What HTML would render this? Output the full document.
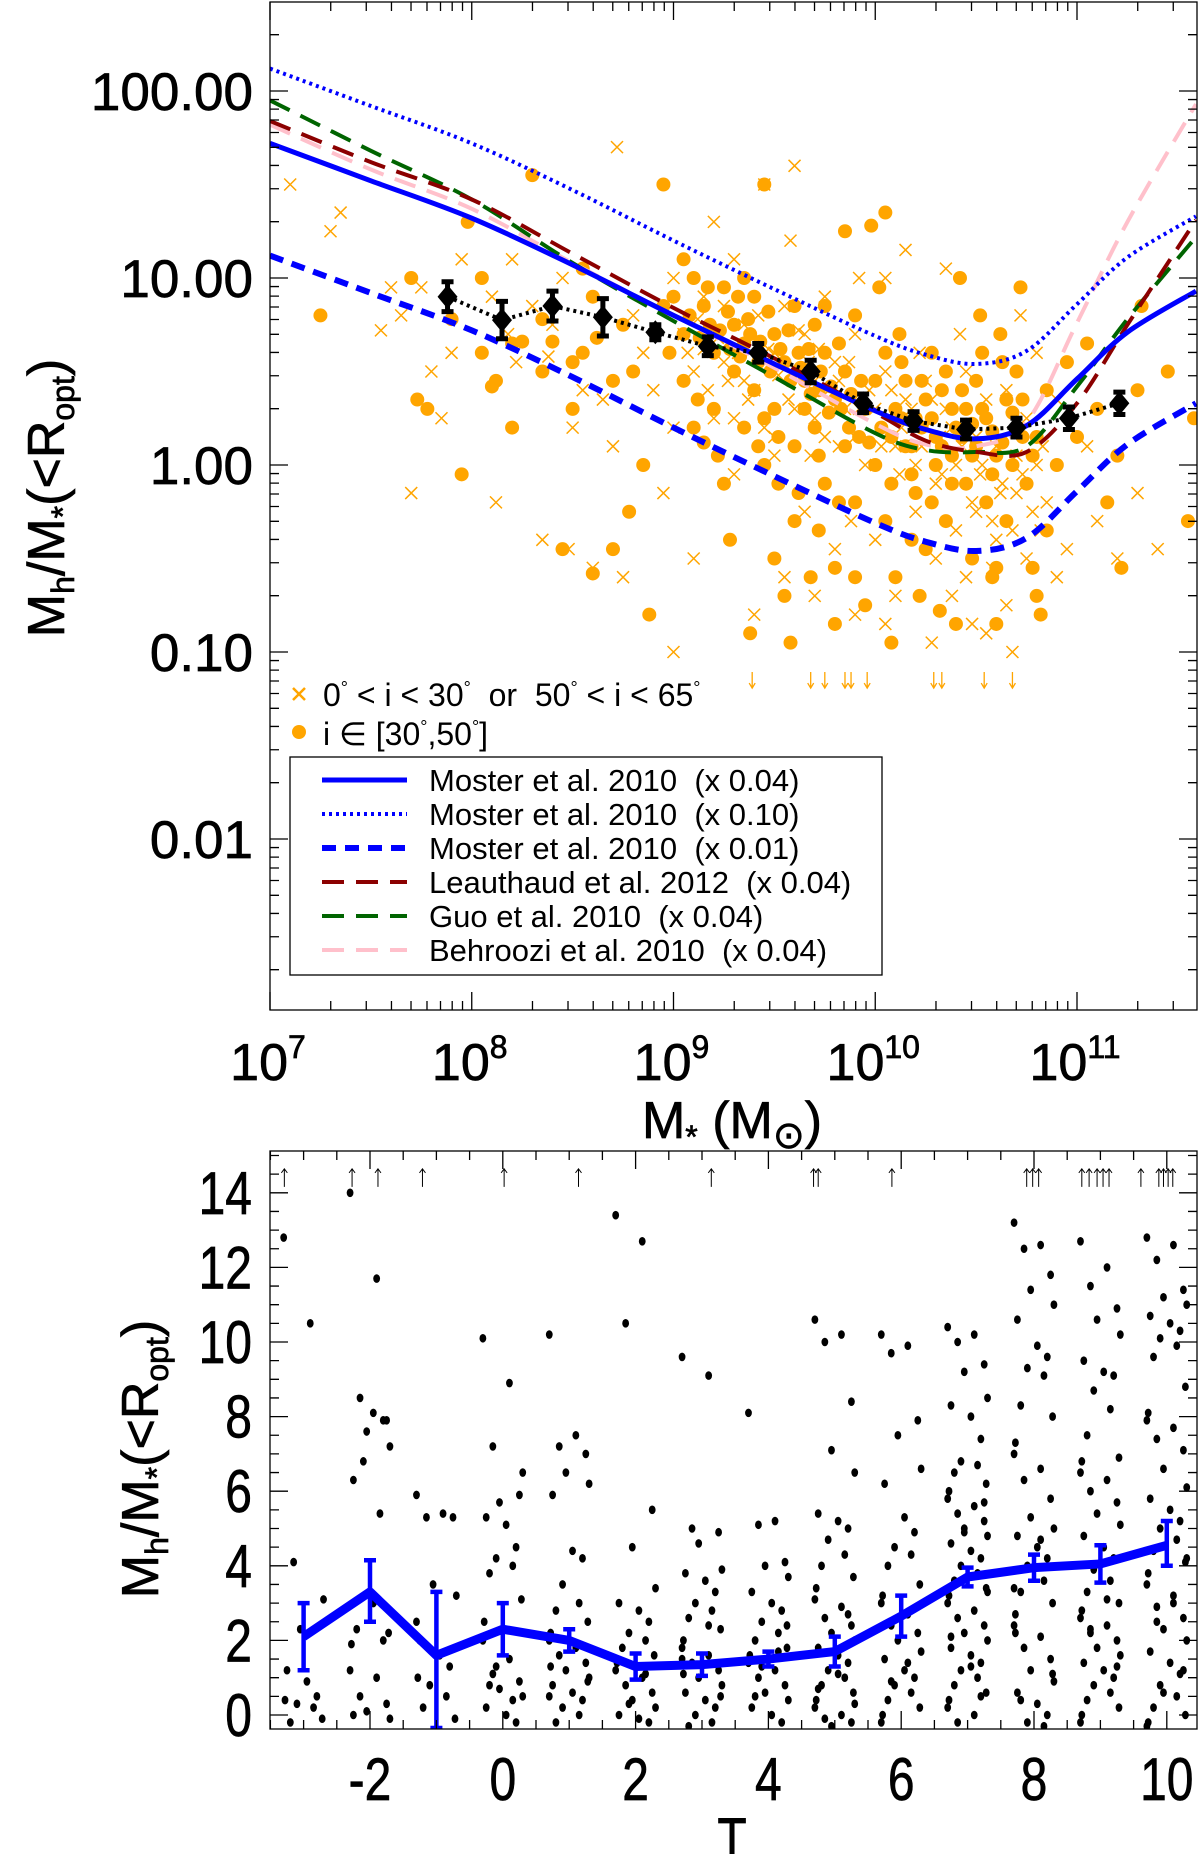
<!DOCTYPE html>
<html><head><meta charset="utf-8"><style>
html,body{margin:0;padding:0;background:#fff}
svg{display:block}
text{font-family:"Liberation Sans",sans-serif;fill:#000;white-space:pre}
.lbl{stroke:#000;stroke-width:0.7}
</style></head><body>
<svg id="fig" width="1200" height="1854" viewBox="0 0 1200 1854" xmlns="http://www.w3.org/2000/svg">
<g id="topPanel"></g>
<g id="botPanel"></g>
</svg>
<script>
// ---------- TOP PANEL DATA (log10 M*, log10 ratio) ----------
const curveLogM=[7,7.5,8,8.5,9,9.5,10,10.25,10.5,10.75,11,11.25,11.59];
const moster04=[1.72,1.52,1.32,1.07,0.80,0.54,0.29,0.19,0.14,0.21,0.46,0.71,0.93];
const moster10=[2.12,1.92,1.72,1.47,1.20,0.94,0.69,0.59,0.54,0.61,0.86,1.11,1.33];
const moster01=[1.12,0.92,0.72,0.47,0.20,-0.06,-0.31,-0.41,-0.46,-0.39,-0.14,0.11,0.33];
const leauthaud=[1.84,1.62,1.42,1.13,0.84,0.57,0.28,0.13,0.07,0.07,0.33,0.75,1.31];
const guo=[1.95,1.68,1.42,1.08,0.77,0.47,0.17,0.08,0.07,0.1,0.42,0.78,1.22];
const behroozi=[1.82,1.58,1.37,1.08,0.8,0.52,0.22,0.11,0.1,0.23,0.76,1.3,1.93];
const binLogM=[7.88,8.15,8.40,8.65,8.91,9.17,9.42,9.68,9.94,10.19,10.45,10.70,10.96,11.21];
const binLogR=[0.90,0.775,0.85,0.79,0.71,0.635,0.60,0.50,0.33,0.235,0.19,0.20,0.25,0.33];
const binErr=[0.08,0.1,0.08,0.1,0.04,0.05,0.05,0.06,0.05,0.05,0.05,0.05,0.06,0.06];
const dotsTop=[7.25,0.8,7.7,1.0,7.73,0.35,7.78,0.3,7.9,0.78,7.95,-0.05,8.05,0.6,8.1,0.42,8.05,1.0,8.12,0.45,8.2,0.2,8.3,1.55,8.25,0.66,8.35,0.78,8.4,0.66,8.45,-0.45,8.5,0.55,8.55,0.6,8.6,0.9,8.62,0.68,8.7,0.45,8.7,-0.45,8.75,0.75,8.8,0.5,8.85,0.0,8.88,-0.8,8.95,1.5,8.95,0.85,8.98,0.6,8.5,0.3,8.35,0.5,8.2,0.65,7.98,1.3,8.55,1.05,8.78,-0.25,8.6,-0.58,
9.0,0.9,9.05,0.7,9.05,0.45,9.1,0.2,9.1,1.0,9.15,0.85,9.2,0.6,9.2,0.3,9.25,0.95,9.25,-0.1,9.3,0.75,9.3,0.5,9.35,0.65,9.35,0.2,9.4,0.9,9.4,0.4,9.45,1.5,9.45,0.0,9.5,0.7,9.5,0.3,9.5,-0.5,9.55,0.55,9.6,0.85,9.6,0.1,9.6,-0.3,9.65,0.45,9.7,0.75,9.7,0.2,9.75,0.6,9.75,-0.1,9.8,0.35,9.8,-0.55,9.85,0.5,9.85,0.1,9.9,0.8,9.9,-0.2,9.95,0.3,9.95,-0.75,9.12,0.35,9.22,0.05,9.32,0.9,9.42,0.55,9.52,0.15,9.62,0.6,9.72,0.4,9.82,0.65,9.92,0.15,9.68,-0.6,9.58,-0.95,9.9,-0.6,9.38,-0.9,9.55,-0.7,9.8,-0.85,9.28,-0.4,9.15,0.12,9.45,0.25,9.65,0.3,9.05,1.1,9.35,1.0,9.75,0.85,9.85,1.25,9.98,1.28,9.72,-0.35,
9.08,0.8,9.13,0.68,9.18,0.75,9.23,0.72,9.28,0.62,9.33,0.58,9.38,0.7,9.43,0.66,9.48,0.5,9.53,0.62,9.58,0.45,9.63,0.52,9.68,0.38,9.73,0.5,9.78,0.42,9.83,0.3,9.88,0.38,9.93,0.45,9.17,0.95,9.27,0.82,9.37,0.78,9.47,0.82,9.57,0.72,9.67,0.62,9.77,0.28,9.87,0.2,9.97,0.12,9.42,0.1,9.52,-0.1,9.62,-0.15,9.72,0.05,9.82,-0.2,
10.0,0.45,10.0,0.0,10.05,0.6,10.05,-0.3,10.1,0.3,10.1,-0.6,10.15,0.1,10.15,0.45,10.2,-0.15,10.2,0.25,10.25,0.35,10.25,-0.45,10.3,0.15,10.3,0.0,10.35,0.5,10.35,-0.3,10.4,0.2,10.4,-0.85,10.45,0.3,10.45,-0.1,10.5,0.1,10.5,0.45,10.55,-0.2,10.55,0.25,10.6,0.05,10.6,-0.55,10.65,0.35,10.65,-0.3,10.7,0.2,10.7,0.5,10.75,-0.1,10.8,0.15,10.8,-0.7,10.85,0.4,10.85,-0.35,10.9,0.0,10.95,0.55,11.0,0.15,10.02,0.95,10.12,0.7,10.22,-0.7,10.32,-0.78,10.42,1.0,10.52,0.8,10.62,0.7,10.72,0.95,10.82,-0.8,10.08,-0.95,10.18,-0.4,10.28,0.6,10.38,0.05,10.48,-0.5,10.58,-0.6,10.78,-0.55,10.05,1.35,10.6,-0.85,
10.03,0.2,10.08,0.15,10.13,0.25,10.18,0.1,10.23,0.2,10.28,0.25,10.33,0.1,10.38,0.3,10.43,0.15,10.48,0.22,10.53,0.3,10.58,0.18,10.63,0.12,10.68,0.28,10.73,0.15,10.08,-0.1,10.18,-0.05,10.28,-0.2,10.38,-0.1,10.48,0.05,10.58,-0.05,10.68,0.0,10.78,0.05,10.13,0.55,10.23,0.45,10.33,0.4,10.43,0.4,10.53,0.6,10.63,0.55,10.73,0.35,
11.05,0.65,11.1,0.3,11.15,-0.2,11.2,0.05,11.22,-0.55,11.3,0.4,11.45,0.5,11.55,-0.3,11.58,0.25,11.32,0.85];
const crossTop=[7.1,1.5,7.35,1.35,7.3,1.25,7.55,0.72,7.6,0.95,7.65,0.8,7.7,-0.15,7.8,0.5,7.75,0.95,7.85,0.25,7.9,0.6,7.95,1.1,8.1,0.9,8.12,-0.2,8.18,0.7,8.2,1.1,8.22,0.55,8.3,0.85,8.35,-0.4,8.38,0.58,8.4,0.75,8.45,1.0,8.48,-0.45,8.5,0.2,8.55,0.4,8.6,-0.55,8.65,0.35,8.72,1.7,8.7,0.1,8.75,-0.6,8.8,0.8,8.85,0.6,8.9,0.4,8.95,-0.15,
9.0,1.0,9.0,-1.0,9.05,0.7,9.1,0.5,9.1,-0.5,9.15,0.9,9.2,0.25,9.2,1.3,9.25,0.55,9.3,1.1,9.3,-0.05,9.35,0.75,9.4,0.4,9.4,-0.8,9.45,1.5,9.5,0.6,9.5,0.05,9.55,0.85,9.55,-0.6,9.6,1.6,9.6,0.3,9.65,0.7,9.65,-0.25,9.7,0.45,9.7,-0.7,9.75,0.9,9.75,0.15,9.8,0.55,9.8,-0.45,9.85,0.3,9.9,0.7,9.9,-0.8,9.95,0.0,9.0,0.2,9.25,0.85,9.45,0.2,9.62,0.5,9.82,0.1,9.58,1.2,9.92,1.0,9.35,0.45,9.15,0.62,9.68,0.05,9.88,-0.3,
9.07,0.6,9.12,0.78,9.17,0.4,9.22,0.68,9.27,0.45,9.32,0.6,9.37,0.35,9.42,0.8,9.47,0.62,9.52,0.48,9.57,0.35,9.62,0.72,9.67,0.55,9.72,0.62,9.77,0.4,9.82,0.45,9.87,0.55,9.92,0.3,9.97,0.4,9.3,0.25,9.5,0.15,9.7,0.25,9.9,0.15,
10.0,0.3,10.0,-0.4,10.05,0.5,10.05,1.0,10.1,0.1,10.1,-0.7,10.15,0.35,10.15,1.15,10.2,0.0,10.2,-0.25,10.25,0.45,10.25,0.2,10.3,-0.1,10.3,-0.5,10.35,0.3,10.35,1.05,10.4,0.0,10.4,-0.35,10.45,0.5,10.45,-0.6,10.5,0.15,10.5,-0.25,10.55,0.35,10.55,-0.9,10.6,0.1,10.6,-0.4,10.65,0.4,10.65,-0.75,10.7,0.05,10.7,-0.15,10.75,0.25,10.75,-0.5,10.8,0.0,10.8,0.6,10.85,-0.2,10.9,0.35,10.95,-0.45,11.05,0.1,11.1,-0.3,11.2,-0.5,11.3,-0.15,11.4,-0.45,10.12,-0.05,10.22,0.6,10.32,0.15,10.42,0.7,10.52,-0.05,10.62,-0.15,10.72,0.8,10.82,-0.35,10.38,-0.7,10.58,-0.55,10.68,-1.0,10.48,-0.85,10.05,-0.85,10.28,-0.95,10.9,-0.6,
10.03,0.1,10.13,0.2,10.23,0.1,10.33,-0.05,10.43,0.1,10.53,0.0,10.63,-0.1,10.73,-0.05,10.83,0.1,10.08,0.4,10.18,0.3,10.28,0.35,10.38,0.2,10.48,-0.2,10.58,-0.3,10.68,-0.35,10.78,-0.25];
const arrowTopLogM=[9.39,9.68,9.75,9.85,9.88,9.96,10.29,10.33,10.54,10.68];
const arrowTopLogR=-1.15;

// ---------- BOTTOM PANEL DATA ----------
const typeT=[-3,-2,-1,0,1,2,3,4,5,6,7,8,9,10];
const medRatio=[2.1,3.3,1.6,2.3,2.0,1.3,1.35,1.5,1.7,2.65,3.7,3.95,4.05,4.55];
const errLo=[0.9,0.8,1.95,0.7,0.3,0.35,0.3,0.2,0.4,0.55,0.25,0.35,0.5,0.55];
const errHi=[0.9,0.85,1.7,0.7,0.3,0.35,0.3,0.2,0.4,0.55,0.25,0.35,0.5,0.65];
const galaxyRatios={
"-3":[12.8,10.5,4.1,2.4,2.3,3.1,1.2,0.9,0.5,0.3,0.2,-0.2,-0.1,0.4],
"-2":[14.0,11.7,8.5,7.9,7.6,7.2,6.3,8.1,7.9,6.8,5.4,2.3,2.2,1.9,1.2,1.0,0.5,0.3,0.1,-0.1,0.0,3.0,2.0],
"-1":[5.9,5.4,5.3,5.3,3.5,3.2,2.0,1.6,1.3,0.8,0.5,0.2,-0.1,1.0,2.5],
"0":[10.1,8.9,7.2,5.9,5.7,6.5,5.3,5.1,4.5,4.2,4.0,3.8,3.1,2.5,2.0,1.5,1.1,0.9,0.7,0.5,0.2,0.0,-0.2,1.3,0.4,0.8],
"1":[10.2,7.5,7.2,7.0,6.5,6.2,5.9,4.4,4.2,3.5,3.0,2.8,2.5,2.2,2.0,1.8,1.6,1.4,1.2,1.0,0.8,0.6,0.4,0.2,0.0,-0.2,0.9,1.3,0.5],
"2":[13.4,12.7,10.5,5.5,4.5,3.4,3.0,2.8,2.5,2.2,2.0,1.8,1.6,1.4,1.2,1.0,0.8,0.6,0.4,0.2,0.0,-0.1,-0.2,0.3,1.1],
"3":[9.6,9.1,5.0,4.9,4.6,3.9,3.8,3.6,3.3,3.0,2.8,2.6,2.3,2.0,1.8,1.6,1.4,1.2,1.0,0.8,0.6,0.4,0.2,0.0,-0.2,-0.3,0.5,1.1,1.5,2.4],
"4":[8.1,5.2,5.1,4.1,4.0,3.7,3.3,3.0,2.8,2.5,2.2,2.0,1.8,1.6,1.4,1.2,1.0,0.8,0.6,0.4,0.2,0.0,-0.2,1.3,1.7,0.5,2.4],
"5":[10.6,10.2,10.0,8.4,7.1,6.5,5.4,5.2,5.0,4.7,4.3,4.0,3.7,3.4,3.1,2.9,2.6,2.4,2.2,2.0,1.8,1.6,1.4,1.2,1.0,0.8,0.6,0.4,0.2,0.0,-0.1,-0.2,-0.3,0.3,0.7,1.1,2.7],
"6":[10.2,9.9,9.7,7.9,7.5,6.6,6.2,5.3,4.9,4.5,4.3,4.0,3.5,3.2,3.0,2.7,2.4,2.2,2.0,1.7,1.5,1.2,1.0,0.8,0.6,0.4,0.2,0.0,-0.2,1.4,0.9],
"7":[10.4,10.2,10.0,9.4,9.2,8.5,8.3,8.0,7.4,6.8,6.7,6.5,6.2,6.0,5.8,5.6,5.4,5.2,5.0,4.8,4.6,4.4,4.2,4.0,3.8,3.6,3.4,3.2,3.0,2.8,2.6,2.4,2.2,2.0,1.8,1.6,1.4,1.2,1.0,0.8,0.6,0.4,0.2,0.0,-0.2,5.7,4.9,3.3,2.1,1.3,0.5],
"8":[13.2,12.6,12.5,11.8,11.4,11.0,10.6,9.9,9.6,9.3,9.1,8.3,8.0,7.3,7.0,6.6,6.3,5.8,5.3,5.0,4.8,4.5,4.2,4.0,3.6,3.3,3.0,2.7,2.4,2.1,1.8,1.5,1.2,0.9,0.6,0.3,0.0,-0.2,-0.3,0.4,1.1,2.2,3.4,4.7],
"9":[12.7,12.0,11.5,10.9,10.6,10.2,9.5,9.2,9.1,8.7,8.2,7.5,6.9,6.8,6.5,6.3,6.0,5.7,5.4,5.1,4.8,4.5,4.2,3.9,3.6,3.3,3.0,2.8,2.6,2.4,2.2,2.0,1.8,1.6,1.4,1.2,1.0,0.8,0.6,0.4,0.2,0.0,-0.2,3.1,2.3,1.3],
"10":[12.8,12.6,12.2,11.4,11.2,11.0,10.7,10.5,10.3,10.1,9.9,9.6,8.8,8.1,7.9,7.7,7.4,7.1,6.6,6.1,5.8,5.5,5.2,5.0,4.7,4.4,4.1,3.8,3.5,3.2,2.9,2.6,2.3,2.0,1.7,1.4,1.1,0.8,0.5,0.2,0.0,-0.2,-0.3,3.0,2.5,1.2,0.6,4.2]};
const arrowT=[-3.29,-2.27,-1.88,-1.21,0.02,1.14,3.14,4.68,4.75,5.86,7.89,7.98,8.07,8.72,8.83,8.95,9.04,9.13,9.61,9.88,9.95,10.02,10.09];
const arrowRatio=14.4;
const topYTicks=["100.00","10.00","1.00","0.10","0.01"];
const botXTicks=[-2,0,2,4,6,8,10];
const botYTicks=[0,2,4,6,8,10,12,14];

const NS="http://www.w3.org/2000/svg";
function mk(parent,tag,attrs,text){const e=document.createElementNS(NS,tag);for(const k in attrs)e.setAttribute(k,attrs[k]);if(text!==undefined)e.textContent=text;parent.appendChild(e);return e;}

const L=270,R=1197,T0=2,B0=1010;
const X=lm=>L+(lm-7)*201.75;
const Y=lr=>465-lr*187;
const BT=1151,BB=1729;
const XT=t=>370+(t+2)*66.4;
const YV=v=>1715-v*37.3;

const topG=document.getElementById('topPanel');
const botG=document.getElementById('botPanel');

const defsEl=mk(document.getElementById('fig'),'defs',{});
const cp=mk(defsEl,'clipPath',{id:'ctop'});mk(cp,'rect',{x:L,y:T0,width:R-L,height:B0-T0});
const cp2=mk(defsEl,'clipPath',{id:'cbot'});mk(cp2,'rect',{x:L,y:BT,width:R-L,height:BB-BT});
const tg=mk(topG,'g',{'clip-path':'url(#ctop)'});

for(let i=0;i<crossTop.length;i+=2){const x=X(crossTop[i]),y=Y(crossTop[i+1]);
 const c=mk(tg,'path',{d:`M${x-6} ${y-6}L${x+6} ${y+6}M${x-6} ${y+6}L${x+6} ${y-6}`,stroke:'#ffa500','stroke-width':1.5,fill:'none'});
 
 }
for(let i=0;i<dotsTop.length;i+=2){
 const c=mk(tg,'circle',{cx:X(dotsTop[i]),cy:Y(dotsTop[i+1]),r:7,fill:'#ffa500'});
 
 }
arrowTopLogM.forEach(m=>{const x=X(m),y=Y(arrowTopLogR);
 const a=mk(tg,'path',{d:`M${x} ${y-8}L${x} ${y+8}M${x-3} ${y+3}L${x} ${y+8}L${x+3} ${y+3}`,stroke:'#ffa500','stroke-width':1.3,fill:'none'});
 
 });

function smoothPath(ys){const pts=curveLogM.map((m,i)=>[X(m),Y(ys[i])]);let d=`M${pts[0][0]} ${pts[0][1]}`;
 for(let i=0;i<pts.length-1;i++){const p0=pts[i-1]||pts[i],p1=pts[i],p2=pts[i+1],p3=pts[i+2]||p2;
  const c1=[p1[0]+(p2[0]-p0[0])/6,p1[1]+(p2[1]-p0[1])/6],c2=[p2[0]-(p3[0]-p1[0])/6,p2[1]-(p3[1]-p1[1])/6];
  d+=`C${c1[0].toFixed(1)} ${c1[1].toFixed(1)} ${c2[0].toFixed(1)} ${c2[1].toFixed(1)} ${p2[0].toFixed(1)} ${p2[1].toFixed(1)}`;}return d;}
const curves=[
 [behroozi,'#ffc0cb',4,'22 12','behroozi-curve'],
 [guo,'#006400',4,'22 12','guo-curve'],
 [leauthaud,'#8b0000',4,'22 12','leauthaud-curve'],
 [moster01,'#0000ff',6,'14 9','moster-x001-curve'],
 [moster10,'#0000ff',4,'3 4','moster-x010-curve'],
 [moster04,'#0000ff',5,'','moster-x004-curve']];
curves.forEach(c=>{const p=mk(tg,'path',{d:smoothPath(c[0]),stroke:c[1],'stroke-width':c[2],fill:'none','stroke-dasharray':c[3]});
 
 });

let bd='';binLogM.forEach((m,i)=>{bd+=(i?'L':'M')+X(m)+' '+Y(binLogR[i]);});
const bl=mk(tg,'path',{d:bd,stroke:'#000','stroke-width':4,'stroke-dasharray':'3 4',fill:'none'});


binLogM.forEach((m,i)=>{const x=X(m),y=Y(binLogR[i]),y1=Y(binLogR[i]+binErr[i]),y2=Y(binLogR[i]-binErr[i]);
 const g=mk(tg,'g',{});
 
 
 mk(g,'path',{d:`M${x} ${y1}L${x} ${y2}M${x-6} ${y1}L${x+6} ${y1}M${x-6} ${y2}L${x+6} ${y2}`,stroke:'#000','stroke-width':5,fill:'none'});
 mk(g,'path',{d:`M${x} ${y-12}L${x+10} ${y}L${x} ${y+12}L${x-10} ${y}Z`,fill:'#000'});});

mk(topG,'rect',{x:L,y:T0,width:R-L,height:B0-T0,fill:'none',stroke:'#000','stroke-width':1.3});
let tk='';
for(let d=7;d<=11;d++){for(let k=1;k<=9;k++){const lm=d+Math.log10(k);if(lm>11.595)continue;const x=X(lm),len=k===1?18:9;tk+=`M${x} ${B0}L${x} ${B0-len}M${x} ${T0}L${x} ${T0+len}`;}}
for(let d=-3;d<=2;d++){for(let k=1;k<=9;k++){const lr=d+Math.log10(k);if(lr<-2.92||lr>2.47)continue;const y=Y(lr),len=k===1?18:9;tk+=`M${L} ${y}L${L+len} ${y}M${R} ${y}L${R-len} ${y}`;}}
mk(topG,'path',{d:tk,stroke:'#000','stroke-width':1.3,fill:'none'});
topYTicks.forEach((s,i)=>{const t=mk(topG,'text',{x:253,y:Y(2-i)+19,'font-size':53,'text-anchor':'end','class':'lbl'},s);
 
 });
[7,8,9,10,11].forEach(e=>{const t=mk(topG,'text',{x:X(e)-2,y:1080,'font-size':52,'text-anchor':'middle','class':'lbl'});
 
 
 mk(t,'tspan',{},'10');mk(t,'tspan',{dy:-22,'font-size':32},String(e));});
const xt=mk(topG,'text',{x:732,y:1138,'font-size':52,'text-anchor':'middle','class':'lbl'});


mk(xt,'tspan',{},'M');mk(xt,'tspan',{dy:10,'font-size':32},'*');mk(xt,'tspan',{dy:-10},' (M');mk(xt,'tspan',{dy:10,'font-size':38},'⊙');mk(xt,'tspan',{dy:-10},')');
function yTitle(parent,cx,cy,name){const t=mk(parent,'text',{x:0,y:0,'font-size':52,'text-anchor':'middle','class':'lbl',transform:`translate(${cx},${cy}) rotate(-90)`});
 
 
 mk(t,'tspan',{},'M');mk(t,'tspan',{dy:10,'font-size':32},'h');mk(t,'tspan',{dy:-10},'/M');mk(t,'tspan',{dy:10,'font-size':32},'*');mk(t,'tspan',{dy:-10},'(<R');mk(t,'tspan',{dy:10,'font-size':32},'opt');mk(t,'tspan',{dy:-10},')');}
yTitle(topG,64,498,'y-axis-title-top');

const sl=mk(topG,'g',{});


mk(sl,'path',{d:'M293 688L305 700M293 700L305 688',stroke:'#ffa500','stroke-width':2.5});
const s1=mk(sl,'text',{x:323,y:706,'font-size':32});
[['0',0],['°',1],[' < i < 30',0],['°',1],['  or  50',0],['°',1],[' < i < 65',0],['°',1]].forEach(p=>{mk(s1,'tspan',p[1]?{dy:-12,'font-size':18}:{dy:p===undefined?0:0},p[0]);});
s1.querySelectorAll('tspan').forEach((ts,i)=>{if(i%2===0&&i>0)ts.setAttribute('dy',12);});
mk(sl,'circle',{cx:299,cy:732,r:7,fill:'#ffa500'});
const s2=mk(sl,'text',{x:323,y:745,'font-size':32});
mk(s2,'tspan',{},'i ∈ [30');mk(s2,'tspan',{dy:-12,'font-size':18},'°');mk(s2,'tspan',{dy:12},',50');mk(s2,'tspan',{dy:-12,'font-size':18},'°');mk(s2,'tspan',{dy:12},']');
const lg=mk(topG,'g',{});


mk(lg,'rect',{x:290,y:757,width:592,height:218,fill:'#fff',stroke:'#000','stroke-width':1.3});
const legItems=[['Moster et al. 2010  (x 0.04)','#0000ff',5,''],['Moster et al. 2010  (x 0.10)','#0000ff',4,'3 4'],['Moster et al. 2010  (x 0.01)','#0000ff',6,'14 9'],['Leauthaud et al. 2012  (x 0.04)','#8b0000',4,'22 12'],['Guo et al. 2010  (x 0.04)','#006400',4,'22 12'],['Behroozi et al. 2010  (x 0.04)','#ffc0cb',4,'22 12']];
legItems.forEach((it,i)=>{const y=780+i*34;const g=mk(lg,'g',{});
 
 
 mk(g,'line',{x1:322,x2:407,y1:y,y2:y,stroke:it[1],'stroke-width':it[2],'stroke-dasharray':it[3]});
 mk(g,'text',{x:429,y:y+11,'font-size':31},it[0]);});

// ---------- bottom panel ----------
const bg=mk(botG,'g',{'clip-path':'url(#cbot)'});
const jit=[-0.3,0.1,-0.15,0.25,-0.05,0.3,-0.25,0.05,0.2,-0.1,0.15,-0.2,0.28,-0.28];
typeT.forEach(t=>{(galaxyRatios[String(t)]||[]).forEach((v,i)=>{
 const c=mk(bg,'ellipse',{cx:XT(t+jit[i%jit.length]),cy:YV(v),rx:3.4,ry:4.3,fill:'#000'});
 
 });});
arrowT.forEach(t=>{const x=XT(t),y=YV(arrowRatio);
 const a=mk(bg,'path',{d:`M${x} ${y-9}L${x} ${y+9}M${x-3} ${y-5}L${x} ${y-9}L${x+3} ${y-5}`,stroke:'#000','stroke-width':1,fill:'none'});
 
 });
let md='';typeT.forEach((t,i)=>{md+=(i?'L':'M')+XT(t)+' '+YV(medRatio[i]);});
const ml=mk(bg,'path',{d:md,stroke:'#0000ff','stroke-width':9,fill:'none','stroke-linejoin':'round'});


typeT.forEach((t,i)=>{const x=XT(t),y1=YV(medRatio[i]+errHi[i]),y2=YV(medRatio[i]-errLo[i]);
 const e=mk(bg,'path',{d:`M${x} ${y1}L${x} ${y2}M${x-6} ${y1}L${x+6} ${y1}M${x-6} ${y2}L${x+6} ${y2}`,stroke:'#0000ff','stroke-width':4.5,fill:'none'});
 
 });
mk(botG,'rect',{x:L,y:BT,width:R-L,height:BB-BT,fill:'none',stroke:'#000','stroke-width':1.3});
let bt='';
for(let t=-3.5;t<=10.46;t+=0.5){const x=XT(t);const len=(Math.abs(t%2)<1e-6)?18:9;bt+=`M${x} ${BB}L${x} ${BB-len}M${x} ${BT}L${x} ${BT+len}`;}
for(let v=0;v<=15;v+=0.5){const y=YV(v);const len=(v%2===0)?18:9;bt+=`M${L} ${y}L${L+len} ${y}M${R} ${y}L${R-len} ${y}`;}
mk(botG,'path',{d:bt,stroke:'#000','stroke-width':1.3,fill:'none'});
botYTicks.forEach(v=>{const t=mk(botG,'text',{x:0,y:0,'font-size':60,'text-anchor':'end','class':'lbl',transform:`translate(252,${YV(v)+21}) scale(0.8,1)`},String(v));
 
 });
botXTicks.forEach(v=>{const t=mk(botG,'text',{x:0,y:0,'font-size':60,'text-anchor':'middle','class':'lbl',transform:`translate(${XT(v)},1800) scale(0.8,1)`},String(v));
 
 });
const tt=mk(botG,'text',{x:0,y:0,'font-size':60,'text-anchor':'middle','class':'lbl',transform:'translate(732,1860) scale(0.8,1)'},'T');


yTitle(botG,158,1459,'y-axis-title-bottom');
</script>
</body></html>
